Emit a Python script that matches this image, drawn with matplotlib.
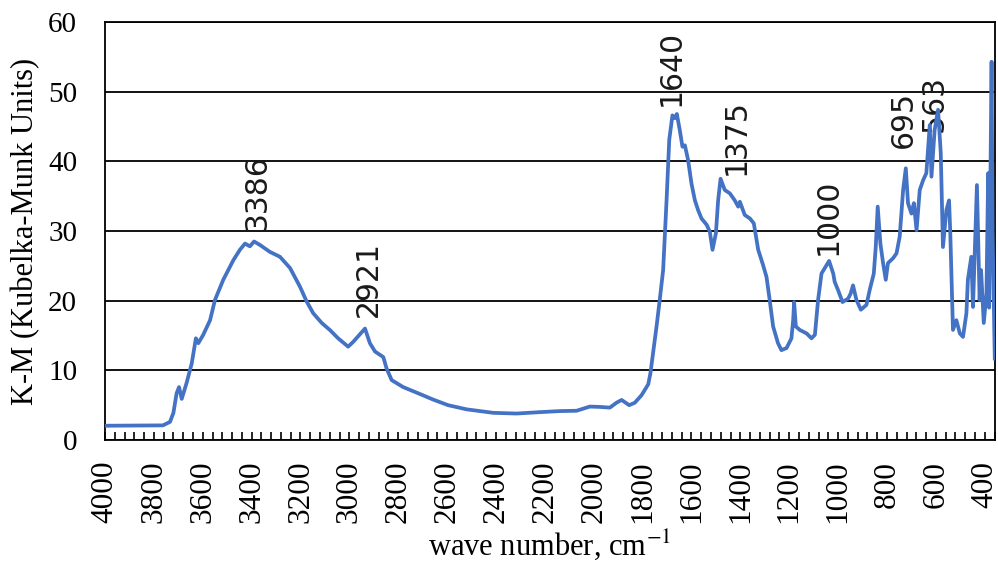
import numpy as np
import matplotlib
matplotlib.use("Agg")
import matplotlib.pyplot as plt
from matplotlib.ticker import MultipleLocator

# spectrum (wave number in cm-1, K-M units)
wavenumber = [
    4000, 3763, 3734, 3720, 3707, 3697, 3686, 3666, 3645, 3628, 3618, 3598, 3570, 3550,
    3516, 3475, 3448, 3427, 3407, 3390, 3366, 3325, 3284, 3243, 3202, 3175, 3148, 3113,
    3080, 3046, 3005, 2984, 2964, 2936, 2916, 2895, 2861, 2848, 2827, 2780, 2711, 2657,
    2596, 2520, 2411, 2316, 2220, 2139, 2070, 2043, 2016, 1975, 1934, 1907, 1886, 1855,
    1832, 1804, 1777, 1768, 1754, 1743, 1730, 1716, 1702, 1691, 1678, 1668, 1660, 1648,
    1637, 1627, 1614, 1600, 1586, 1573, 1559, 1538, 1525, 1514, 1500, 1491, 1481, 1464,
    1443, 1423, 1409, 1402, 1382, 1361, 1345, 1327, 1307, 1293, 1280, 1266, 1246, 1232,
    1211, 1191, 1184, 1180, 1173, 1157, 1129, 1109, 1095, 1082, 1068, 1037, 1020, 1014,
    1000, 982, 959, 949, 939, 925, 907, 884, 871, 854, 846, 838, 827, 816, 805, 796,
    775, 761, 748, 734, 723, 714, 700, 690, 679, 666, 652, 639, 625, 618, 605, 591,
    580, 571, 557, 546, 541, 530, 516, 502, 489, 475, 469, 455, 448, 432, 421, 415,
    404, 393, 386, 382, 376, 372, 368, 359,
]
km = [
    2.05, 2.1, 2.6, 3.9, 6.7, 7.6, 5.9, 8.2, 11.0, 14.6, 13.9, 15.1, 17.2, 20.1,
    23.0, 25.8, 27.3, 28.2, 27.8, 28.5, 28.0, 27.0, 26.3, 24.7, 22.0, 19.9, 18.2, 16.8,
    15.8, 14.6, 13.4, 14.1, 14.9, 16.0, 13.9, 12.7, 11.9, 10.3, 8.6, 7.6, 6.6, 5.8,
    5.0, 4.4, 3.9, 3.8, 4.0, 4.15, 4.2, 4.5, 4.8, 4.75, 4.65, 5.35, 5.75, 5.0,
    5.35, 6.45, 8.0, 9.6, 13.4, 16.3, 20.1, 24.4, 34.4, 43.1, 46.6, 46.2, 46.8, 44.5,
    42.1, 42.3, 40.2, 36.8, 34.4, 33.0, 31.8, 30.9, 29.9, 27.3, 29.7, 34.4, 37.5, 35.9,
    35.4, 34.4, 33.5, 34.2, 32.3, 31.8, 31.1, 27.3, 25.1, 23.4, 20.1, 16.3, 13.9, 12.9,
    13.2, 14.6, 17.2, 19.8, 16.3, 15.8, 15.3, 14.6, 15.1, 20.1, 23.9, 25.7, 23.9, 22.7,
    21.5, 19.8, 20.3, 21.0, 22.2, 20.1, 18.7, 19.4, 21.5, 23.9, 27.7, 33.5, 28.2, 25.4, 23.0, 25.4,
    26.1, 26.8, 29.2, 35.9, 39.0, 34.0, 32.5, 34.0, 30.1, 35.9, 37.3, 38.3, 45.2, 37.8, 44.5, 47.4,
    41.2, 27.7, 33.0, 34.4, 29.7, 15.8, 17.2, 15.3, 14.8, 18.2, 23.0, 26.3, 19.1, 36.6, 20.1, 24.4,
    16.8, 21.0, 38.3, 19.0, 41.0, 54.3, 30.0, 11.7,
]

peak_labels = ["3386", "2921", "1640", "1375", "1000", "695", "563"]
label_x = [3378, 2924, 1685, 1419, 1042, 735, 605]
label_y = [30.1, 17.6, 47.9, 38.0, 26.5, 41.9, 44.2]

plt.rcParams['mathtext.fontset'] = 'stix'
serif = ['Liberation Serif', 'DejaVu Serif']

fig = plt.figure(figsize=(9.98, 5.69), dpi=100)
ax = fig.add_axes([0.1052, 0.2267, 0.8918, 0.7346])

ax.plot(wavenumber, km, color='#4472C4', linewidth=2.7, zorder=3)

for lab, x, y in zip(peak_labels, label_x, label_y):
    ax.text(x, y, lab, rotation=90, ha='center', va='bottom',
            fontsize=21.5, family='DejaVu Sans', color='#1a1a1a', zorder=2)

ax.set_xlim(4000, 358)
ax.set_ylim(0, 60)
ax.xaxis.set_major_locator(MultipleLocator(200))
ax.xaxis.set_minor_locator(MultipleLocator(40))
ax.yaxis.set_major_locator(MultipleLocator(10))
ax.grid(axis='y', color='black', linewidth=1.3, zorder=1)
ax.set_axisbelow(True)

ax.tick_params(axis='x', which='both', direction='in', length=5.5, width=1.2, pad=15)
ax.tick_params(axis='x', which='major', labelrotation=90, labelsize=22.5,
               labelfontfamily='Liberation Serif')
ax.tick_params(axis='y', length=0, pad=20, labelsize=21,
               labelfontfamily='Liberation Serif')

for s in ax.spines.values():
    s.set_linewidth(1.3)
    s.set_color('black')

ax.set_xlabel(r'wave number, cm$^{-1}$', fontsize=22, family=serif, labelpad=3)
ax.set_ylabel('K-M (Kubelka-Munk Units)', fontsize=22, family=serif, labelpad=6)

fig.savefig('out.png', dpi=100)
